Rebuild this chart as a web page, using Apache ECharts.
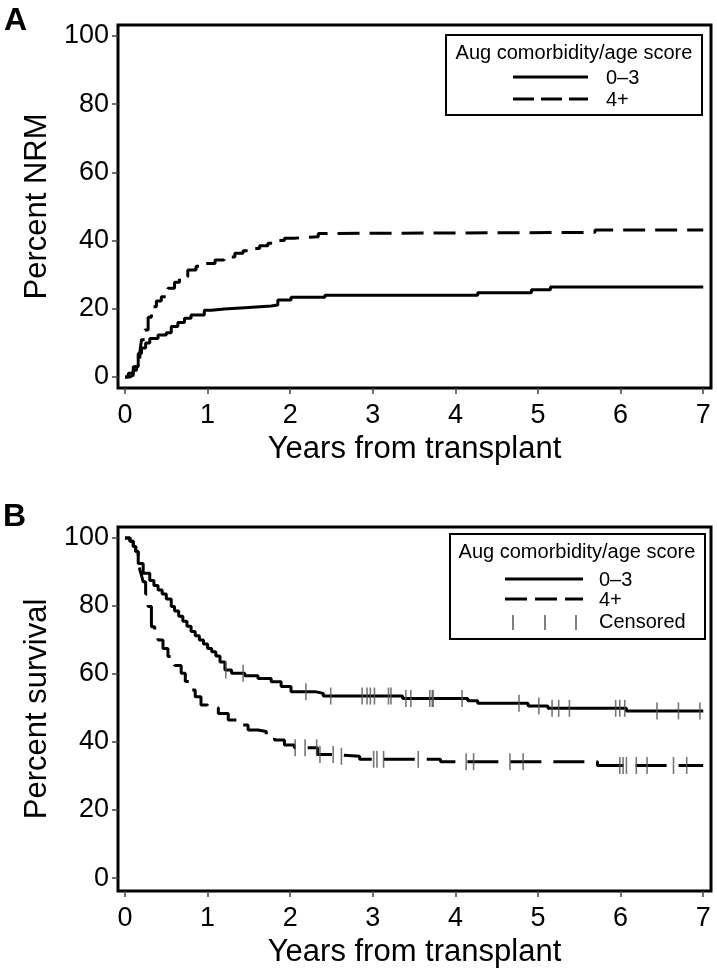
<!DOCTYPE html>
<html><head><meta charset="utf-8">
<script src="https://cdn.jsdelivr.net/npm/echarts@6/dist/echarts.min.js"></script>
<style>html,body{margin:0;padding:0;background:#fff}#c{width:717px;height:975px}</style>
</head><body><div id="c"></div>
<script>
// Panel A: cumulative NRM (step curves)
const aT_low = [0,0.04,0.1,0.16,0.2,0.25,0.3,0.4,0.5,0.56,0.64,0.72,0.8,0.96,1.05,1.2,1.45,1.77,1.85,2.01,2.42,4.27,4.92,5.15,7.0];
const aV_low = [0,1.1,3,6.9,8.5,10,11.3,12.3,13,14.8,16,17.2,18.2,19.6,19.9,20.3,20.8,21.1,22.6,23.4,24.0,24.7,25.6,26.4,26.4];
const aT_high = [0,0.06,0.1,0.14,0.18,0.2,0.24,0.28,0.32,0.38,0.44,0.52,0.6,0.66,0.76,0.86,0.96,1.09,1.2,1.33,1.43,1.53,1.63,1.73,1.83,1.93,2.05,2.18,2.34,2.55,5.69,7.0];
const aV_high = [0,0.5,2,4.5,7.4,10.9,13.8,17.5,20.6,22.3,23.5,26,27.8,29.4,31.4,32.5,33.3,34.3,35.2,36.3,37,37.7,38.5,39.2,40,40.7,40.9,41.1,42.1,42.4,43.1,43.1];

// Panel B: survival (step curves)
const bT_low = [0,0.06,0.1,0.13,0.16,0.22,0.3,0.35,0.4,0.45,0.5,0.56,0.6,0.65,0.7,0.75,0.8,0.85,0.9,0.95,1.0,1.05,1.1,1.15,1.21,1.29,1.45,1.61,1.77,1.89,2.01,2.3,2.4,3.36,4.15,4.27,4.88,5.12,6.07,7.0];
const bV_low = [100,99,97.5,96,92.5,89.6,87.5,86,84.7,83.5,82,79.8,78.5,77,75.5,74,72.5,71.2,70,68.8,67.5,66.5,65.3,63.5,61.2,60.2,59.5,58.7,57.7,56.3,54.8,54.3,53.5,52.8,52.1,51.4,50.6,49.9,49.1,49.1];
const bT_high = [0,0.06,0.1,0.13,0.16,0.18,0.2,0.22,0.25,0.28,0.32,0.36,0.4,0.46,0.52,0.6,0.68,0.73,0.78,0.85,0.92,1.0,1.13,1.25,1.37,1.49,1.61,1.71,1.81,1.93,2.05,2.33,2.55,2.84,3.82,5.72,7.0];
const bV_high = [100,99,97.5,96,93,90.6,89,87.1,83.5,79.8,73.9,72,70,67.5,65.1,62.5,60.2,57.8,55.3,53.3,50.9,50.1,48.4,46.5,45,43.5,43.1,41.8,40.6,39.1,38.3,36.3,35.8,34.9,34.2,33.1,33.1];

// Censoring times
const censLow = [1.22,1.43,2.19,2.49,2.87,2.93,2.97,3.02,3.19,3.22,3.40,3.46,3.69,3.72,3.73,4.08,4.77,5.01,5.17,5.25,5.38,5.94,5.99,6.05,6.44,6.70,6.96];
const censHigh = [2.06,2.18,2.32,2.36,2.52,2.62,3.01,3.05,3.13,3.55,4.13,4.22,4.66,4.82,5.99,6.03,6.07,6.19,6.32,6.64,6.80];

const xTicks = [0,1,2,3,4,5,6,7];
const yTicks = [0,20,40,60,80,100];
const legendTitle = 'Aug comorbidity/age score';
const groupNames = ['0–3','4+'];

const FONT = '"Liberation Sans", Arial, Helvetica, sans-serif';
function pairs(T,V){return T.map((t,i)=>[t,V[i]]);}
function stepAt(T,V,t){let v=V[0];for(let i=0;i<T.length;i++){if(T[i]<=t)v=V[i];else break;}return v;}

function xAxisDef(idx){
  return {type:'value',gridIndex:idx,min:-0.0847,max:7.094,
    name:'Years from transplant',nameLocation:'middle',nameGap:46,
    nameTextStyle:{fontSize:31,color:'#000',fontFamily:FONT},
    axisLine:{show:false,onZero:false},splitLine:{show:false},
    axisTick:{show:true,length:6,customValues:xTicks,lineStyle:{color:'#444',width:1.5}},
    axisLabel:{customValues:xTicks,fontSize:27,color:'#000',fontFamily:FONT,margin:14}};
}
function yAxisDef(idx,name,mn,mx){
  return {type:'value',gridIndex:idx,min:mn,max:mx,
    name:name,nameLocation:'middle',nameGap:64,
    nameTextStyle:{fontSize:31,color:'#000',fontFamily:FONT},
    axisLine:{show:false,onZero:false},splitLine:{show:false},
    axisTick:{show:true,length:6,customValues:yTicks,lineStyle:{color:'#444',width:1.5}},
    axisLabel:{customValues:yTicks,fontSize:27,color:'#000',fontFamily:FONT,margin:9}};
}
function lineSeries(idx,data,dash){
  return {type:'line',xAxisIndex:idx,yAxisIndex:idx,data:data,step:'end',symbol:'none',
    lineStyle:{color:'#000',width:3,type:dash||'solid'},z:3};
}
function censSeries(idx,times,T,V){
  return {type:'scatter',xAxisIndex:idx,yAxisIndex:idx,symbol:'rect',symbolSize:[1.6,17],
    itemStyle:{color:'#555'},data:times.map(t=>[t,stepAt(T,V,t)]),z:4};
}

const chart = echarts.init(document.getElementById('c'),null,{renderer:'canvas'});
const txt=(x,y,s,size,opts)=>Object.assign({type:'text',style:{x:x,y:y,text:s,fill:'#000',
   font:(opts&&opts.bold?'bold ':'')+size+'px '+FONT,align:(opts&&opts.align)||'left',verticalAlign:'middle'}},{z:10});
const ln=(x1,y1,x2,y2,w,dash,color)=>({type:'line',shape:{x1,y1,x2,y2},style:{stroke:color||'#000',lineWidth:w,lineDash:dash||null},z:10});

chart.setOption({
  animation:false,
  backgroundColor:'#fff',
  grid:[
    {left:118,top:25,width:593,height:363,show:true,borderColor:'#000',borderWidth:3,backgroundColor:'transparent'},
    {left:118,top:527,width:593,height:364,show:true,borderColor:'#000',borderWidth:3,backgroundColor:'transparent'}
  ],
  xAxis:[xAxisDef(0),xAxisDef(1)],
  yAxis:[yAxisDef(0,'Percent NRM',-3.23,103.2),yAxisDef(1,'Percent survival',-3.8,103.2)],
  series:[
    lineSeries(0,pairs(aT_low,aV_low)),
    lineSeries(0,pairs(aT_high,aV_high),[22,10]),
    lineSeries(1,pairs(bT_low,bV_low)),
    lineSeries(1,pairs(bT_high,bV_high),[31,12]),
    censSeries(1,censLow,bT_low,bV_low),
    censSeries(1,censHigh,bT_high,bV_high)
  ],
  graphic:[
    txt(4,21,'A',32,{bold:true}),
    txt(3,517,'B',32,{bold:true}),
    // legend A
    {type:'rect',shape:{x:446,y:35,width:256,height:80},style:{fill:'#fff',stroke:'#000',lineWidth:2},z:9},
    txt(574,53,legendTitle,20,{align:'center'}),
    ln(513,77,588,77,3),
    txt(606,78,groupNames[0],20),
    ln(513,99,588,99,3,[21,7]),
    txt(606,100,groupNames[1],20),
    // legend B
    {type:'rect',shape:{x:450,y:534,width:255,height:105},style:{fill:'#fff',stroke:'#000',lineWidth:2},z:9},
    txt(577,552,legendTitle,20,{align:'center'}),
    ln(505,579,583,579,3),
    txt(599,580,groupNames[0],20),
    ln(505,599,583,599,3,[22,8]),
    txt(599,600,groupNames[1],20),
    ln(513,615,513,630,1.5,null,'#555'),
    ln(545,615,545,630,1.5,null,'#555'),
    ln(576,615,576,630,1.5,null,'#555'),
    txt(599,622,'Censored',20)
  ]
});
</script></body></html>
